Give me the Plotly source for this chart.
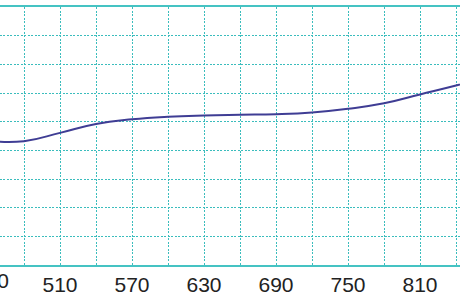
import plotly.graph_objects as go

# Data
x_vals = [450, 480, 510, 540, 570, 600, 630, 660, 690, 720, 750, 780, 810, 840, 870]
y_vals = [43.3, 43.2, 46.1, 49.2, 50.8, 51.7, 52.15, 52.4, 52.6, 53.2, 54.5, 56.4, 59.5, 62.6, 66.0]

x_range = [460, 843.33]
y_range = [0, 90]
first_label = 450

grid_col = "#3bbdbd"
axis_col = "#45c3c3"
label_col = "#222222"

fig = go.Figure()
fig.add_trace(go.Scatter(
    x=x_vals, y=y_vals, mode="lines",
    line=dict(color="#3f3d94", width=2, shape="spline", smoothing=1.3),
    hoverinfo="skip", showlegend=False,
))

fig.update_layout(
    width=460, height=295,
    margin=dict(l=0, r=0, t=7, b=30, pad=0),
    paper_bgcolor="white", plot_bgcolor="white",
    font=dict(family="Liberation Sans, Arial, sans-serif", size=21, color=label_col),
    xaxis=dict(
        range=x_range, tick0=450, dtick=60, ticks="", ticklabelstandoff=0,
        showgrid=True, gridcolor=grid_col, gridwidth=1, griddash="2px,1.5px",
        minor=dict(dtick=30, tick0=450, showgrid=True, gridcolor=grid_col, gridwidth=1,
                   griddash="2px,1.5px", ticks=""),
        showline=True, linecolor=axis_col, linewidth=1.5, mirror=True,
        zeroline=False, automargin=False, fixedrange=True,
        tickfont=dict(size=21, color=label_col),
    ),
    yaxis=dict(
        range=y_range, dtick=10, showticklabels=False, ticks="",
        showgrid=True, gridcolor=grid_col, gridwidth=1, griddash="2px,1.5px",
        showline=False, zeroline=False, automargin=False, fixedrange=True,
    ),
)

# partially visible label of the tick left of the visible range
frac = (first_label - x_range[0]) / (x_range[1] - x_range[0])
fig.add_annotation(
    x=frac, xref="paper", y=0, yref="paper", yanchor="top", xanchor="center",
    text=str(first_label), showarrow=False, yshift=-2, xshift=4,
    font=dict(size=21, color=label_col),
)

fig.write_html("out.html")
